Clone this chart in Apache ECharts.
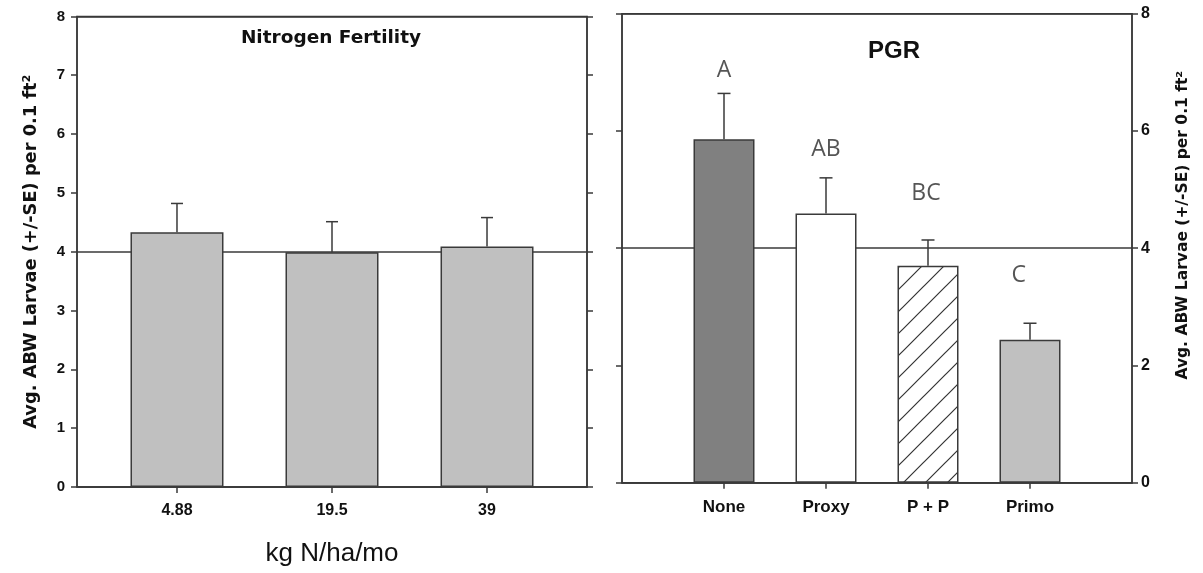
<!DOCTYPE html>
<html>
<head>
<meta charset="utf-8">
<script src="https://cdn.jsdelivr.net/npm/echarts@6/dist/echarts.min.js"></script>
<style>html,body{margin:0;padding:0;background:#fff}#c{width:1203px;height:573px}</style>
</head>
<body>
<div id="c"></div>
<script>
// ---- data ----
const nitroCats = ['4.88', '19.5', '39'];
const nitroMeans = [4.33, 3.99, 4.09];
const nitroUpper = [4.82, 4.51, 4.58];
const pgrCats = ['None', 'Proxy', 'P + P', 'Primo'];
const pgrMeans = [5.86, 4.59, 3.70, 2.44];
const pgrUpper = [6.64, 5.20, 4.14, 2.72];
const pgrLetters = ['A', 'AB', 'BC', 'C'];
const letterX = [1.0, 2.0, 2.98, 3.89];
const letterY = [7.04, 5.69, 4.94, 3.54];
const yTicksLeft = [0, 1, 2, 3, 4, 5, 6, 7, 8];
const yTicksRight = [0, 2, 4, 6, 8];
const yName = 'Avg. ABW Larvae (+/-SE) per 0.1 ft\u00B2';

// hatch pattern
const pc = document.createElement('canvas');
pc.width = 22; pc.height = 22;
const g = pc.getContext('2d');
g.fillStyle = '#fff'; g.fillRect(0, 0, 22, 22);
g.strokeStyle = '#333'; g.lineWidth = 1.2;
g.beginPath();
g.moveTo(-2, 24); g.lineTo(24, -2);
g.moveTo(-2, 2); g.lineTo(2, -2);
g.moveTo(20, 24); g.lineTo(24, 20);
g.stroke();

const LC = '#3a3a3a';
const chart = echarts.init(document.getElementById('c'), null, {renderer: 'canvas'});

function errSeries(xi, yi, cats, means, upper, half) {
  return {
    type: 'custom', xAxisIndex: xi, yAxisIndex: yi, z: 5,
    data: cats.map((c, i) => [i + 1, means[i], upper[i]]),
    encode: {x: 0, y: [1, 2]},
    renderItem: function (params, api) {
      const x = api.value(0);
      const p0 = api.coord([x, api.value(1)]);
      const p1 = api.coord([x, api.value(2)]);
      return {
        type: 'group',
        children: [
          {type: 'line', shape: {x1: p0[0], y1: p0[1], x2: p1[0], y2: p1[1]}, style: {stroke: LC, lineWidth: 1.5}},
          {type: 'line', shape: {x1: p1[0] - half, y1: p1[1], x2: p1[0] + half, y2: p1[1]}, style: {stroke: LC, lineWidth: 1.5}}
        ]
      };
    }
  };
}

const axisLine = {show: true, lineStyle: {color: LC, width: 1.5}};
const tick = {show: true, inside: false, length: 6, lineStyle: {color: LC, width: 1.5}};
const lblFont = 'Liberation Sans, Arial, sans-serif';

const option = {
  animation: false,
  backgroundColor: '#fff',
  title: [
    {text: 'Nitrogen Fertility', left: 326, top: 24, textAlign: 'center',
     textStyle: {fontFamily: 'DejaVu Sans', fontWeight: 'bold', fontSize: 18.5, color: '#111'}},
    {text: 'PGR', left: 889, top: 34, textAlign: 'center',
     textStyle: {fontFamily: lblFont, fontWeight: 'bold', fontSize: 24, color: '#111'}}
  ],
  grid: [
    {left: 77, right: 616, top: 16.4, bottom: 86, show: true, borderColor: LC, borderWidth: 1.5, backgroundColor: 'transparent'},
    {left: 622, right: 71, top: 13.7, bottom: 90.3, show: true, borderColor: LC, borderWidth: 1.5, backgroundColor: 'transparent'}
  ],
  xAxis: [
    {type: 'value', gridIndex: 0, min: 0.355, max: 3.645, axisLine: axisLine,
     axisTick: Object.assign({}, tick, {customValues: [1, 2, 3]}),
     axisLabel: {customValues: [1, 2, 3], formatter: v => nitroCats[Math.round(v) - 1] || '', margin: 16,
       fontFamily: lblFont, fontWeight: 'bold', fontSize: 16, color: '#111'},
     splitLine: {show: false},
     name: 'kg N/ha/mo', nameLocation: 'middle', nameGap: 54,
     nameTextStyle: {fontFamily: lblFont, fontSize: 26, color: '#111'}},
    {type: 'value', gridIndex: 1, min: 0, max: 5, axisLine: axisLine,
     axisTick: Object.assign({}, tick, {customValues: [1, 2, 3, 4]}),
     axisLabel: {customValues: [1, 2, 3, 4], formatter: v => pgrCats[Math.round(v) - 1] || '', margin: 16,
       fontFamily: lblFont, fontWeight: 'bold', fontSize: 17, color: '#111'},
     splitLine: {show: false}}
  ],
  yAxis: [
    {type: 'value', gridIndex: 0, min: 0, max: 8, interval: 1, position: 'left', axisLine: axisLine, axisTick: tick,
     axisLabel: {margin: 12, fontFamily: lblFont, fontWeight: 'bold', fontSize: 15, color: '#111',
       customValues: yTicksLeft},
     splitLine: {show: false},
     name: yName, nameLocation: 'middle', nameRotate: 90, nameGap: 37,
     nameTextStyle: {fontFamily: 'DejaVu Sans', fontWeight: 'bold', fontSize: 17.8, color: '#111'}},
    {type: 'value', gridIndex: 0, min: 0, max: 8, interval: 1, position: 'right', axisLine: axisLine, axisTick: tick,
     axisLabel: {show: false}, splitLine: {show: false}},
    {type: 'value', gridIndex: 0, min: 0, max: 8, interval: 4, axisLine: {show: false}, axisTick: {show: false},
     axisLabel: {show: false}, splitLine: {show: true, lineStyle: {color: LC, width: 1.5}}},
    {type: 'value', gridIndex: 1, min: 0, max: 8, interval: 2, position: 'left', axisLine: axisLine,
     axisTick: tick, axisLabel: {show: false}, splitLine: {show: false}},
    {type: 'value', gridIndex: 1, min: 0, max: 8, interval: 2, position: 'right', axisLine: axisLine, axisTick: tick,
     axisLabel: {margin: 9, fontFamily: lblFont, fontWeight: 'bold', fontSize: 16, color: '#111', customValues: yTicksRight},
     splitLine: {show: false},
     name: yName, nameLocation: 'middle', nameRotate: 90, nameGap: 43,
     nameTextStyle: {fontFamily: 'DejaVu Sans', fontWeight: 'bold', fontSize: 15.5, color: '#111', padding: [0, 0, 0, 46]}},
    {type: 'value', gridIndex: 1, min: 0, max: 8, interval: 4, axisLine: {show: false}, axisTick: {show: false},
     axisLabel: {show: false}, splitLine: {show: true, lineStyle: {color: LC, width: 1.5}}}
  ],
  series: [
    {type: 'bar', xAxisIndex: 0, yAxisIndex: 0, barWidth: 93, z: 3,
     data: nitroMeans.map((v, i) => [i + 1, v]),
     itemStyle: {color: '#c0c0c0', borderColor: LC, borderWidth: 1.5}},
    errSeries(0, 0, nitroCats, nitroMeans, nitroUpper, 6),
    {type: 'bar', xAxisIndex: 1, yAxisIndex: 3, barWidth: 61, z: 3,
     data: pgrMeans.map((v, i) => {
       const fills = ['#808080', '#ffffff', {image: pc, repeat: 'repeat'}, '#c0c0c0'];
       return {value: [i + 1, v], itemStyle: {color: fills[i]}};
     }),
     itemStyle: {borderColor: LC, borderWidth: 1.5}},
    errSeries(1, 3, pgrCats, pgrMeans, pgrUpper, 6.5),
    {type: 'scatter', xAxisIndex: 1, yAxisIndex: 3, symbolSize: 0, z: 6,
     data: pgrLetters.map((t, i) => [letterX[i], letterY[i]]),
     label: {show: true, position: 'inside', formatter: p => pgrLetters[p.dataIndex],
       fontFamily: 'Open Sans, sans-serif', fontWeight: 'normal', fontSize: 23, color: '#2a2a2a'}}
  ]
};
chart.setOption(option);
</script>
</body>
</html>
